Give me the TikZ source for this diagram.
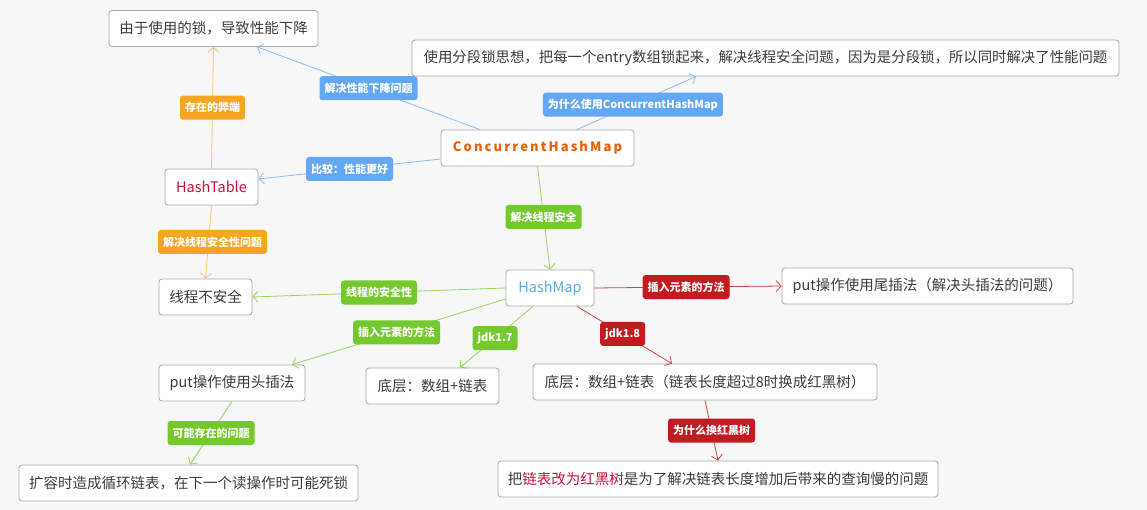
\documentclass[tikz,border=0pt]{standalone}
\usepackage{fontspec}
\setmainfont{Noto Sans CJK SC}
\newfontfamily\chmfont[LetterSpace=16]{Noto Sans CJK SC}
\usetikzlibrary{arrows.meta}
\definecolor{bgc}{HTML}{F7F7F7}
\definecolor{txt}{HTML}{3C3C3C}
\definecolor{bord}{HTML}{A8A8A8}
\definecolor{lblue}{HTML}{62A8F5}
\definecolor{cblue}{HTML}{8DBDF2}
\definecolor{lorange}{HTML}{F5A623}
\definecolor{corange}{HTML}{FFC070}
\definecolor{lgreen}{HTML}{73C92D}
\definecolor{cgreen}{HTML}{96D45A}
\definecolor{lred}{HTML}{C01B20}
\definecolor{cred}{HTML}{D24545}
\definecolor{crimson}{HTML}{C8143C}
\definecolor{chmorange}{HTML}{E8600A}
\definecolor{hmblue}{HTML}{5DA9E9}
\tikzset{
  box/.style={draw=bord, fill=white, rounded corners=3pt, line width=0.8pt,
    minimum height=36pt, inner xsep=2pt, inner ysep=0pt, text=txt,
    font=\fontsize{14.5}{18}\selectfont},
  lbl/.style={rounded corners=3pt, inner xsep=5pt, inner ysep=0pt,
    minimum height=24pt, text=white, font=\fontsize{11}{13}\selectfont\bfseries},
  conn/.style={line width=0.8pt, -{Straight Barb[length=5pt,width=11pt]}},
}
\begin{document}
\begin{tikzpicture}[x=1pt,y=-1pt]
\useasboundingbox (0,0) rectangle (1147,510);
\fill[bgc] (0,0) rectangle (1147,510);

\node[box, minimum width=209pt] (A) at (213.5,28.5) {由于使用的锁，导致性能下降};
\node[box, minimum width=707pt, font=\fontsize{14.4}{18}\selectfont] (B) at (765.5,58) {使用分段锁思想，把每一个entry数组锁起来，解决线程安全问题，因为是分段锁，所以同时解决了性能问题};
\node[box, minimum width=193pt, text=chmorange, font=\chmfont\fontsize{13}{16}\selectfont\bfseries] (C) at (537.5,148) {ConcurrentHashMap};
\node[box, minimum width=93pt, text=crimson] (D) at (211.5,187) {HashTable};
\node[box, minimum width=93pt] (E) at (205.5,297) {线程不安全};
\node[box, minimum width=88pt, text=hmblue] (F) at (550,288) {HashMap};
\node[box, minimum width=291pt] (G) at (927.5,286) {put操作使用尾插法（解决头插法的问题）};
\node[box, minimum width=146pt] (H) at (232,383) {put操作使用头插法};
\node[box, minimum width=133pt] (I) at (432.5,386) {底层：数组+链表};
\node[box, minimum width=344pt] (J) at (705,382) {底层：数组+链表（链表长度超过8时换成红黑树）};
\node[box, minimum width=339pt] (K) at (188.5,483) {扩容时造成循环链表，在下一个读操作时可能死锁};
\node[box, minimum width=440pt] (L) at (718,479) {把\textcolor{crimson}{链表改为红黑树}是为了解决链表长度增加后带来的查询慢的问题};

% blue
\draw[conn, cblue] ([xshift=-57.5pt]C.north) -- node[lbl, fill=lblue, pos=0.5] (l1) {解决性能下降问题} ([xshift=43.5pt]A.south);
\draw[conn, cblue] ([xshift=39.5pt]C.north) -- node[lbl, fill=lblue, pos=0.47] (l2) {为什么使用ConcurrentHashMap} ([xshift=-69.5pt]B.south);
\draw[conn, cblue] ([yshift=-11pt]C.west) -- node[lbl, fill=lblue, pos=0.5] (l3) {比较：性能更好} ([yshift=8pt]D.east);
% orange
\draw[conn, corange] (D.north) -- node[lbl, fill=lorange, pos=0.5] (l4) {存在的弊端} (A.south);
\draw[conn, corange] (D.south) -- node[lbl, fill=lorange, pos=0.5, xshift=4pt] (l5) {解决线程安全性问题} (E.north);
% green
\draw[conn, cgreen] (C.south) -- node[lbl, fill=lgreen, pos=0.49] (l6) {解决线程安全} (F.north);
\draw[conn, cgreen] (F.west) -- node[lbl, fill=lgreen, pos=0.5] (l7) {线程的安全性} (E.east);
\draw[conn, cgreen] ([yshift=-11pt]F.west) -- node[lbl, fill=lgreen, pos=0.51] (l8) {插入元素的方法} ([xshift=60pt]H.north);
\draw[conn, cgreen] ([xshift=-17pt]F.south) -- node[lbl, fill=lgreen, pos=0.52] (l9) {jdk1.7} ([xshift=27.5pt]I.north);
\draw[conn, cgreen] (H.south) -- node[lbl, fill=lgreen, pos=0.5] (l10) {可能存在的问题} ([xshift=1.5pt]K.north);
% red
\draw[conn, cred] (F.east) -- node[lbl, fill=lred, pos=0.49] (l11) {插入元素的方法} (G.west);
\draw[conn, cred] ([xshift=27pt]F.south) -- node[lbl, fill=lred, pos=0.48] (l12) {jdk1.8} ([xshift=-33pt]J.north);
\draw[conn, cred] (J.south) -- node[lbl, fill=lred, pos=0.5] (l13) {为什么换红黑树} (L.north);
\end{tikzpicture}
\end{document}
